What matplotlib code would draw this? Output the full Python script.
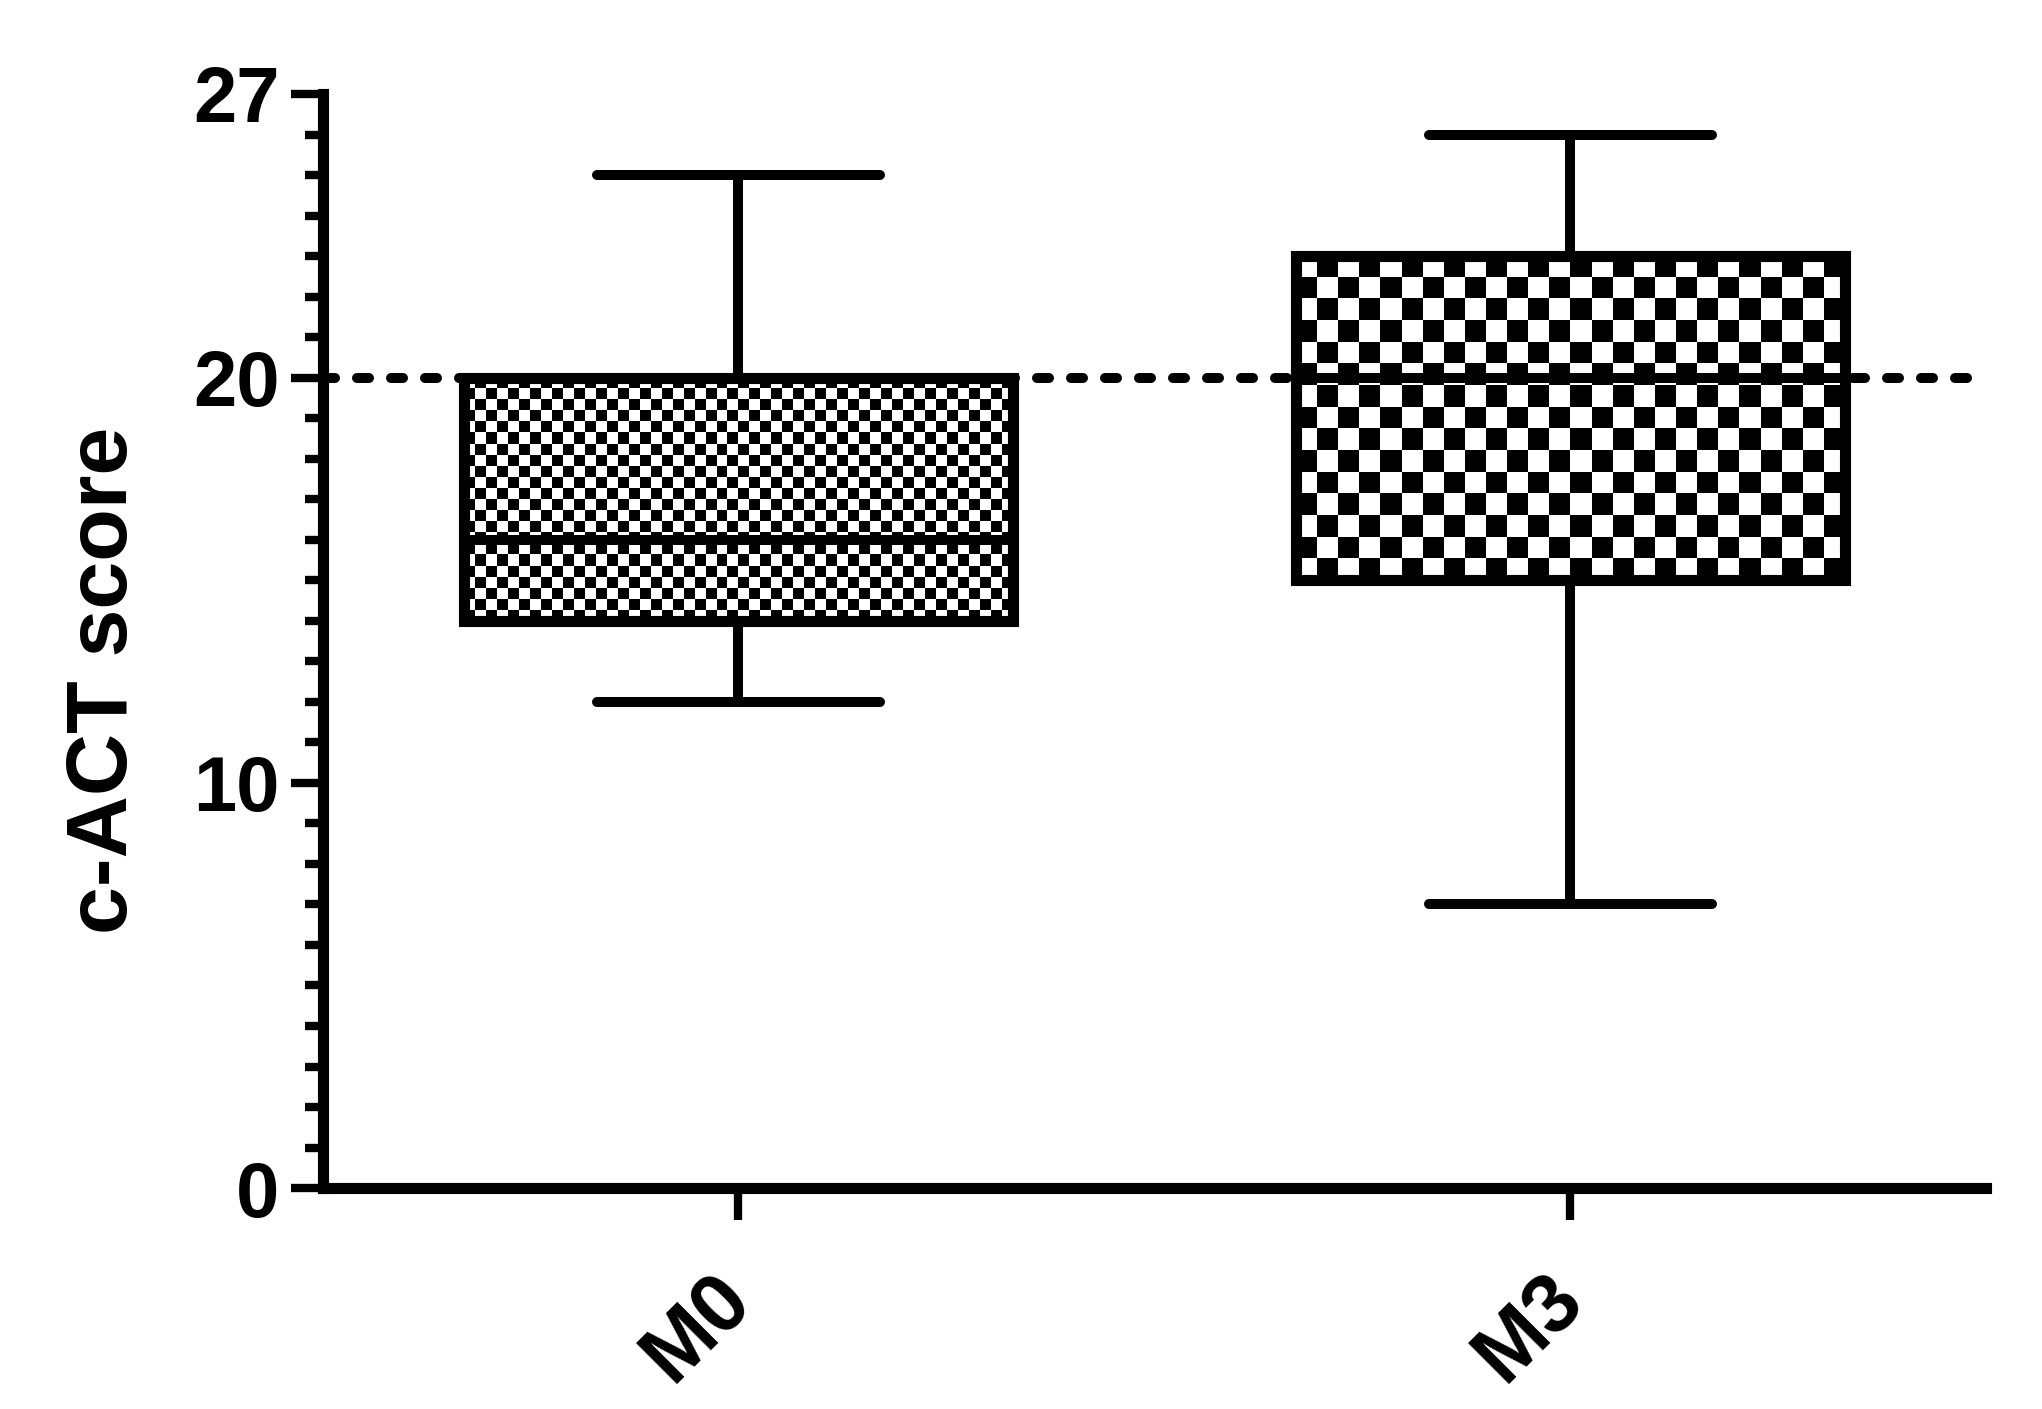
import matplotlib.pyplot as plt
import numpy as np
from matplotlib.ticker import MultipleLocator

plt.rcParams['font.family'] = ['Liberation Sans', 'DejaVu Sans']
plt.rcParams['font.weight'] = 'bold'

groups = ["M0", "M3"]
whisker_low = [12, 7]
q1 = [14, 15]
medians = [16, 20]
q3 = [20, 23]
whisker_high = [25, 26]
cutoff = 20

# checkerboard fill (cells across, cells down) for each box
checker_cols = [50, 26]
checker_rows = [22, 15]

stats = []
for g, lo, a, m, b, hi in zip(groups, whisker_low, q1, medians, q3, whisker_high):
    stats.append(dict(label=g, whislo=lo, q1=a, med=m, q3=b, whishi=hi))

positions = [1, 2]
box_width = 0.66

fig, ax = plt.subplots(figsize=(10.21, 7.045), dpi=200)
fig.subplots_adjust(left=0.158, right=0.9726, bottom=0.1568, top=0.9333)

bp = ax.bxp(stats, positions=positions, widths=box_width, patch_artist=True,
            showfliers=False, capwidths=0.34,
            boxprops=dict(facecolor='none', edgecolor='black', linewidth=4),
            medianprops=dict(color='black', linewidth=3.6),
            whiskerprops=dict(color='black', linewidth=3.6),
            capprops=dict(color='black', linewidth=3.6, solid_capstyle='round'))

for patch, pos, a, b, nc, nr in zip(bp['boxes'], positions, q1, q3, checker_cols, checker_rows):
    board = np.indices((nr, nc)).sum(axis=0) % 2
    im = ax.imshow(board, cmap='gray_r', interpolation='nearest', aspect='auto',
                   extent=(pos - box_width / 2, pos + box_width / 2, a, b), zorder=1.5)
    im.set_clip_path(patch)

ax.axhline(cutoff, color='black', lw=3.6, linestyle=(0, (1.2, 2.2)),
           dash_capstyle='round', zorder=3)

ax.set_xlim(0.5, 2.5)
ax.set_ylim(0, 27)
ax.set_aspect('auto')

for s in ['top', 'right']:
    ax.spines[s].set_visible(False)
for s in ['left', 'bottom']:
    ax.spines[s].set_linewidth(4)

ax.set_yticks([0, 10, 20, 27])
ax.yaxis.set_minor_locator(MultipleLocator(1))
ax.set_xticks(positions, groups)
ax.tick_params(axis='both', which='major', length=11.5, width=3, labelsize=28)
ax.tick_params(axis='y', which='minor', length=6.5, width=3)
ax.tick_params(axis='y', pad=4)
ax.tick_params(axis='x', pad=24, labelsize=30)
for lab in ax.get_xticklabels():
    lab.set_rotation(45)
    lab.set_rotation_mode('anchor')
    lab.set_ha('right')
    lab.set_va('center')
    lab.set_x(lab.get_position()[0])

ax.set_ylabel("c-ACT score", fontsize=31, fontweight='bold')
ax.yaxis.set_label_coords(-0.107, 0.464)

fig.savefig("out.png", dpi=200)
